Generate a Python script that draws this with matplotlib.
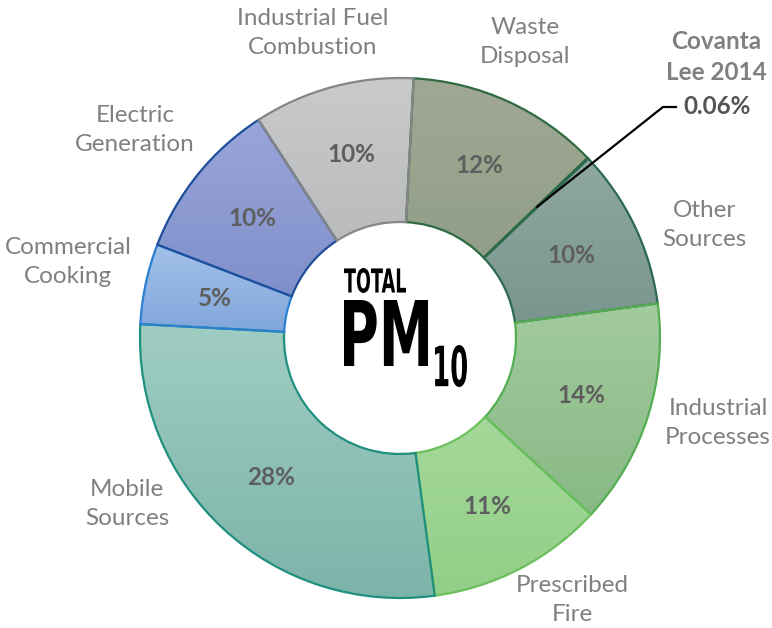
import matplotlib.pyplot as plt
import numpy as np
from matplotlib.colors import LinearSegmentedColormap
from matplotlib.textpath import TextPath
from matplotlib.patches import PathPatch
from matplotlib.font_manager import FontProperties
from matplotlib.transforms import Affine2D

W, H = 772, 628

sources = ["Waste\nDisposal", "Covanta\nLee 2014", "Other\nSources", "Industrial\nProcesses",
           "Prescribed\nFire", "Mobile\nSources", "Commercial\nCooking", "Electric\nGeneration",
           "Industrial Fuel\nCombustion"]
shares = [12, 0.06, 10, 14, 11, 28, 5, 10, 10]
pct_text = ["12%", "0.06%", "10%", "14%", "11%", "28%", "5%", "10%", "10%"]

top_colors = ["#a0a894", "#93aa9c", "#8fa89f", "#a2cb9e", "#acdca2", "#a0cdc1", "#a3c2ea", "#99a6da", "#c8cacc"]
bot_colors = ["#8c9a82", "#7d9a8c", "#77948c", "#88b985", "#93cf88", "#7cb3a9", "#7ea4da", "#7a8ac6", "#b0b2b4"]
edge_colors = ["#2f6b40", "#2f6b40", "#2c6a50", "#55ad52", "#6bbf5c", "#1f9080", "#2b7fd0", "#1f4e9a", "#868686"]

# outer label centres (pixels from top-left), Covanta handled by its own callout
label_xy = [(525, 42), None, (704, 225), (718, 423), (572, 600), (127, 504), (68, 262), (135, 130), (313, 33)]

cx, cy = 400, H - 338
R, r_in = 260, 116

fig = plt.figure(figsize=(W / 100, H / 100), dpi=100)
ax = fig.add_axes([0, 0, 1, 1])

wedges, _ = ax.pie(shares, startangle=87, counterclock=False, radius=R, center=(cx, cy),
                   wedgeprops=dict(width=R - r_in, linewidth=1.6, facecolor="none"))

grad = np.linspace(0, 1, 256)[:, None]
for w, c0, c1, ec in zip(wedges, bot_colors, top_colors, edge_colors):
    w.set_edgecolor(ec)
    w.set_zorder(3)
    v = w.get_path().vertices
    cmap = LinearSegmentedColormap.from_list("g", [c0, c1])
    im = ax.imshow(grad, extent=[v[:, 0].min(), v[:, 0].max(), v[:, 1].min(), v[:, 1].max()],
                   origin="lower", cmap=cmap, aspect="auto", zorder=2, interpolation="bilinear")
    im.set_clip_path(w)

lab_font = "Lato"
gray = "#808080"
fs = 17.5
r_lab = 0.73 * R
for i, w in enumerate(wedges):
    mid = np.deg2rad((w.theta1 + w.theta2) / 2)
    if i == 1:
        # callout for the tiny Covanta slice
        x0, y0 = cx + r_lab * np.cos(mid), cy + r_lab * np.sin(mid)
        ax.plot([x0, 663, 676], [y0, H - 107, H - 107], color="black", lw=1.6, zorder=5)
        ax.text(716, H - 57, sources[i], ha="center", va="center", fontsize=fs, fontweight="bold",
                color=gray, family=lab_font, linespacing=1.45)
        ax.text(717, H - 106, pct_text[i], ha="center", va="center", fontsize=fs, fontweight="bold",
                color="#555555", family=lab_font)
        continue
    ax.text(cx + r_lab * np.cos(mid), cy + r_lab * np.sin(mid), pct_text[i], ha="center", va="center",
            fontsize=fs, fontweight="bold", color="#5e5e5e", family=lab_font, zorder=5)
    lx, ly = label_xy[i]
    ax.text(lx, H - ly, sources[i], ha="center", va="center", fontsize=fs, color=gray,
            family=lab_font, linespacing=1.45)

# centre title
prop = FontProperties(family="DejaVu Sans", weight="bold")


def box_text(s, x0, y_top, bw, bh):
    tp = TextPath((0, 0), s, size=100, prop=prop)
    bb = tp.get_extents()
    tr = Affine2D().translate(-bb.x0, -bb.y0).scale(bw / bb.width, bh / bb.height).translate(x0, H - y_top - bh)
    ax.add_patch(PathPatch(tr.transform_path(tp), facecolor="black", lw=0, zorder=6))


box_text("TOTAL", 344, 268, 62, 25)
box_text("PM", 344, 300, 84, 66)
box_text("10", 435, 345, 32, 42)

ax.set_xlim(0, W)
ax.set_ylim(0, H)
ax.set_aspect("equal")
ax.axis("off")
fig.savefig("out.png", dpi=100)
